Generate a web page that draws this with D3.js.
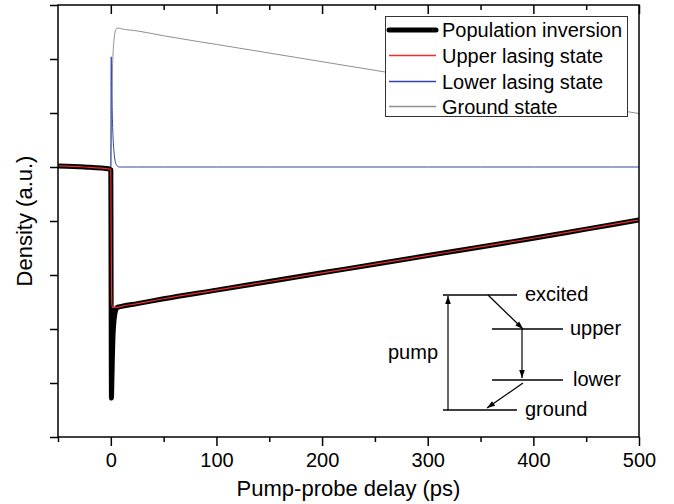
<!DOCTYPE html>
<html>
<head>
<meta charset="utf-8">
<script src="https://cdn.jsdelivr.net/npm/d3@7/dist/d3.min.js"></script>
<style>
  html, body { margin: 0; padding: 0; background: #fff; }
  svg { display: block; font-family: "Liberation Sans", Arial, sans-serif; }
</style>
</head>
<body>
<svg id="chart" width="674" height="504"></svg>
<script>
// Pump-probe delay (ps)
const delay = [-50, -25, -1, 0, 0.2, 0.4, 0.6, 0.8, 1, 1.5, 2, 3, 4, 5, 6, 8, 10, 25, 50, 100, 150, 200, 250, 300, 350, 400, 450, 500];

// Densities (a.u.)
const populationInversion = [0.02, 0.0, -0.04, -0.05, -1.6, -3.3, -4.28, -4.15, -3.95, -3.5, -3.15, -2.85, -2.7, -2.63, -2.6, -2.59, -2.58, -2.53, -2.44, -2.28, -2.12, -1.96, -1.80, -1.64, -1.48, -1.32, -1.15, -0.98];
const upperLasing = [0.02, 0.0, -0.04, -0.05, -0.8, -1.5, -2.05, -2.4, -2.55, -2.6, -2.6, -2.6, -2.6, -2.6, -2.6, -2.59, -2.58, -2.53, -2.44, -2.28, -2.12, -1.96, -1.80, -1.64, -1.48, -1.32, -1.15, -0.98];
const lowerLasing = [0, 0, 0, 0, 1.6, 2.04, 1.85, 1.6, 1.35, 0.9, 0.6, 0.28, 0.12, 0.05, 0.02, 0, 0, 0, 0, 0, 0, 0, 0, 0, 0, 0, 0, 0];
const groundState = [0, 0, 0, 0, 0.2, 0.45, 0.75, 1.0, 1.25, 1.75, 2.05, 2.35, 2.5, 2.55, 2.57, 2.57, 2.56, 2.52, 2.43, 2.27, 2.11, 1.95, 1.79, 1.63, 1.47, 1.31, 1.15, 0.99];

const seriesNames = ["Population inversion", "Upper lasing state", "Lower lasing state", "Ground state"];
const xMajorTicks = [0, 100, 200, 300, 400, 500];
const xMinorTicks = [-50, 50, 150, 250, 350, 450];
const yTicks = [-5, -4, -3, -2, -1, 0, 1, 2, 3];

// Energy-level sketch labels
const levelNames = ["excited", "upper", "lower", "ground"];

const svg = d3.select("#chart");
const L = 58, R = 639, T = 5, B = 437;

const x = d3.scaleLinear().domain([-50, 500]).range([L, R]);
const y = d3.scaleLinear().domain([-5, 3]).range([B, T]);

const styles = [
  { color: "#000000", width: 5 },
  { color: "#ee2c2c", width: 1.2 },
  { color: "#3344aa", width: 1 },
  { color: "#8f8f8f", width: 1 }
];
const values = [populationInversion, upperLasing, lowerLasing, groundState];

const defs = svg.append("defs");
defs.append("clipPath").attr("id", "plot")
  .append("rect").attr("x", L).attr("y", T).attr("width", R - L).attr("height", B - T);

const line = d3.line().x(d => x(d[0])).y(d => y(d[1])).curve(d3.curveMonotoneX);

// draw order: ground, lower, inversion, upper (thin red on top of the thick black)
const order = [3, 2, 0, 1];
const plot = svg.append("g").attr("clip-path", "url(#plot)");
order.forEach(i => {
  plot.append("path")
    .datum(delay.map((t, k) => [t, values[i][k]]))
    .attr("fill", "none")
    .attr("stroke", styles[i].color)
    .attr("stroke-width", styles[i].width)
    .attr("stroke-linejoin", "round")
    .attr("stroke-linecap", "round")
    .attr("d", line);
});

// Axes
const axisStyle = g => {
  g.selectAll(".domain").remove();
  g.selectAll("line").attr("stroke", "#000").attr("stroke-width", 1.5);
};

const bottomAxis = svg.append("g").attr("transform", `translate(0,${B})`);
bottomAxis.append("g").call(d3.axisBottom(x).tickValues(xMajorTicks).tickSize(9).tickPadding(7).tickFormat(d3.format("d")))
  .call(axisStyle)
  .call(g => g.selectAll("text").attr("font-size", 20).attr("fill", "#000").attr("font-family", "Liberation Sans, Arial, sans-serif"));
bottomAxis.append("g").call(d3.axisBottom(x).tickValues(xMinorTicks).tickSize(5).tickFormat(""))
  .call(axisStyle);

const topAxis = svg.append("g").attr("transform", `translate(0,${T})`);
topAxis.append("g").call(d3.axisBottom(x).tickValues(xMajorTicks).tickSize(9).tickFormat("")).call(axisStyle);
topAxis.append("g").call(d3.axisBottom(x).tickValues(xMinorTicks.filter(v => v > -50)).tickSize(5).tickFormat("")).call(axisStyle);

svg.append("g").attr("transform", `translate(${L},0)`)
  .call(d3.axisLeft(y).tickValues(yTicks).tickSize(8).tickFormat(""))
  .call(axisStyle);

// Frame
svg.append("rect").attr("x", L).attr("y", T).attr("width", R - L).attr("height", B - T)
  .attr("fill", "none").attr("stroke", "#000").attr("stroke-width", 1.5);

// Axis titles
svg.append("text").attr("x", (L + R) / 2).attr("y", 496).attr("text-anchor", "middle")
  .attr("font-size", 22).attr("fill", "#000").text("Pump-probe delay (ps)");
svg.append("text").attr("transform", `translate(32,${(T + B) / 2}) rotate(-90)`)
  .attr("text-anchor", "middle").attr("font-size", 22).attr("fill", "#000").text("Density (a.u.)");

// Legend
const lg = svg.append("g");
lg.append("rect").attr("x", 385.5).attr("y", 16.5).attr("width", 242).attr("height", 100)
  .attr("fill", "#fff").attr("stroke", "#333").attr("stroke-width", 1);
[0, 1, 2, 3].forEach(i => {
  const yy = [30, 55.5, 81.5, 106.5][i];
  lg.append("line").attr("x1", 389).attr("x2", 436).attr("y1", yy).attr("y2", yy)
    .attr("stroke", styles[i].color).attr("stroke-width", i === 0 ? 5 : 1.3)
    .attr("stroke-linecap", i === 0 ? "round" : "butt");
  lg.append("text").attr("x", 442).attr("y", yy).attr("dy", "0.36em")
    .attr("font-size", 20).attr("fill", "#000").text(seriesNames[i]);
});

// Energy-level diagram
const dg = svg.append("g").attr("stroke", "#000").attr("stroke-width", 1.5);
defs.append("marker").attr("id", "arrow").attr("viewBox", "0 0 10 10")
  .attr("refX", 10).attr("refY", 5).attr("markerWidth", 10).attr("markerHeight", 8)
  .attr("markerUnits", "userSpaceOnUse").attr("orient", "auto")
  .append("path").attr("d", "M0,1.5 L10,5 L0,8.5 Z").attr("fill", "#000").attr("stroke", "none");

const levels = [
  { y: 295, x1: 443, x2: 517, tx: 525 },
  { y: 329, x1: 492, x2: 563, tx: 570 },
  { y: 380, x1: 492, x2: 563, tx: 573 },
  { y: 410, x1: 443, x2: 517, tx: 525 }
];
levels.forEach((lv, i) => {
  dg.append("line").attr("x1", lv.x1).attr("x2", lv.x2).attr("y1", lv.y).attr("y2", lv.y);
  svg.append("text").attr("x", lv.tx).attr("y", lv.y).attr("dy", "0.3em")
    .attr("font-size", 20).attr("fill", "#000").text(levelNames[i]);
});
const arrows = [
  [448, 410, 448, 296],
  [488, 295, 523, 329],
  [522, 329, 522, 378],
  [523, 383, 487, 408]
];
arrows.forEach(a => {
  dg.append("line").attr("x1", a[0]).attr("y1", a[1]).attr("x2", a[2]).attr("y2", a[3])
    .attr("stroke-width", 1.2).attr("marker-end", "url(#arrow)");
});
svg.append("text").attr("x", 388).attr("y", 353).attr("dy", "0.3em")
  .attr("font-size", 20).attr("fill", "#000").text("pump");
</script>
</body>
</html>
